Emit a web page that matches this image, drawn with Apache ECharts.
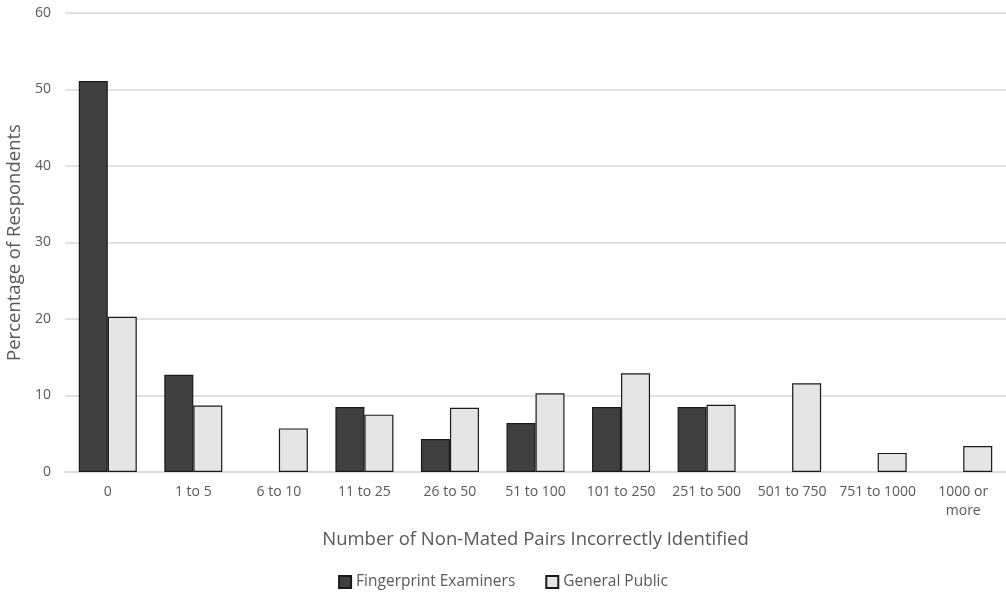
<!DOCTYPE html>
<html>
<head>
<meta charset="utf-8">
<script src="https://cdn.jsdelivr.net/npm/echarts@6/dist/echarts.min.js"></script>
<style>html,body{margin:0;padding:0;background:#fff}#c{width:1006px;height:596px}</style>
</head>
<body>
<div id="c"></div>
<script>
const categories = ['0','1 to 5','6 to 10','11 to 25','26 to 50','51 to 100','101 to 250','251 to 500','501 to 750','751 to 1000','1000 or\nmore'];
const fingerprintExaminers = [51.1, 12.7, null, 8.5, 4.3, 6.4, 8.5, 8.5, null, null, null];
const generalPublic = [20.3, 8.7, 5.7, 7.5, 8.4, 10.3, 12.9, 8.8, 11.6, 2.5, 3.4];
const yTicks = [0, 10, 20, 30, 40, 50, 60];

const FONT = '"Open Sans", "Liberation Sans", sans-serif';
const chart = echarts.init(document.getElementById('c'));
chart.setOption({
  animation: false,
  textStyle: { fontFamily: FONT, color: '#595959' },
  grid: { left: 65, right: 0, top: 13, bottom: 124, outerBoundsMode: 'none', containLabel: false },
  legend: {
    bottom: 1,
    left: 'center',
    itemWidth: 12,
    itemHeight: 12,
    itemGap: 30,
    icon: 'rect',
    textStyle: { fontFamily: FONT, fontSize: 15.5, color: '#595959' },
    data: ['Fingerprint Examiners', 'General Public']
  },
  xAxis: {
    type: 'category',
    data: categories,
    name: 'Number of Non-Mated Pairs Incorrectly Identified',
    nameLocation: 'middle',
    nameGap: 58,
    nameTextStyle: { fontSize: 18.5, color: '#595959', fontFamily: FONT },
    axisLine: { lineStyle: { color: '#d9d9d9', width: 1.5 } },
    axisTick: { show: false },
    axisLabel: { fontSize: 14, color: '#595959', margin: 11, interval: 0, lineHeight: 19, fontFamily: FONT }
  },
  yAxis: {
    type: 'value',
    min: yTicks[0],
    max: yTicks[yTicks.length - 1],
    interval: 10,
    name: 'Percentage of Respondents',
    nameLocation: 'middle',
    nameGap: 37,
    nameTextStyle: { fontSize: 18.5, color: '#595959', fontFamily: FONT },
    axisLine: { show: false },
    axisTick: { show: false },
    axisLabel: { fontSize: 14, color: '#595959', margin: 14, fontFamily: FONT },
    splitLine: { lineStyle: { color: '#d9d9d9', width: 1.5 } }
  },
  series: [
    {
      name: 'Fingerprint Examiners',
      type: 'bar',
      data: fingerprintExaminers,
      barWidth: 29,
      barGap: '0%',
      itemStyle: { color: '#404040', borderColor: '#1a1a1a', borderWidth: 1.2 }
    },
    {
      name: 'General Public',
      type: 'bar',
      data: generalPublic,
      barWidth: 29,
      barGap: '0%',
      itemStyle: { color: '#e5e5e5', borderColor: '#1a1a1a', borderWidth: 1.2 }
    }
  ]
});
</script>
</body>
</html>
